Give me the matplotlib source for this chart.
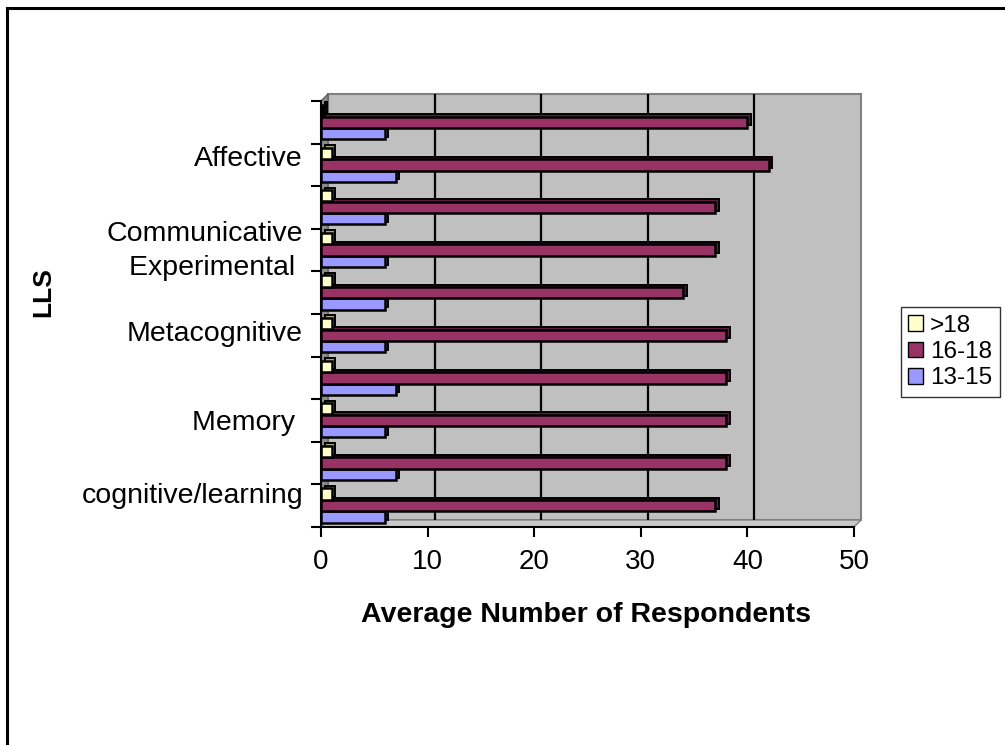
# grafico a barre orizzontali "3D" stile Excel: LLS per fascia d'eta'

import matplotlib.pyplot as plt
import numpy as np
from matplotlib.patches import Rectangle, Polygon, Patch
from matplotlib.lines import Line2D

plt.rcParams["font.family"] = ["Liberation Sans", "DejaVu Sans"]

# dati, righe dal basso verso l'alto
n_righe = 10
resp_13_15 = [6, 7, 6, 7, 6, 6, 6, 6, 7, 6]
resp_16_18 = [37, 38, 38, 38, 38, 34, 37, 37, 42, 40]
resp_over18 = [1, 1, 1, 1, 1, 1, 1, 1, 1, 0.2]

etichette = ["cognitive/learning", "Memory ", "Metacognitive", "Experimental ", "Communicative", "Affective"]
pos_etichette = [0.3, 2.0, 4.1, 5.65, 6.45, 8.2]
x_ticks = [0, 10, 20, 30, 40, 50]

W, H = 1005, 745
fig = plt.figure(figsize=(W / 100, H / 100), dpi=100)
ax = fig.add_axes([321 / W, 1 - 527 / H, 533 / W, 426 / H])
ax.set_xlim(0, 50)
ax.set_ylim(-0.5, n_righe - 0.5)
ax.patch.set_visible(False)

# profondita' delle pareti (7 px) e delle barre (3 px) in unita' dati
DX, DY = 50 * 7 / 533, n_righe * 7 / 426
BDX, BDY = 50 * 3.5 / 533, n_righe * 2.5 / 426
y0, y1 = -0.5, n_righe - 0.5

# parete di fondo, parete sinistra, pavimento
ax.add_patch(Rectangle((DX, y0 + DY), 50, n_righe, facecolor="#C0C0C0",
                       edgecolor="#808080", lw=1.5, zorder=0.5, clip_on=False))
ax.add_patch(Polygon([(0, y0), (0, y1), (DX, y1 + DY), (DX, y0 + DY)],
                     facecolor="#8C8C8C", edgecolor="#606060", lw=1, zorder=0.6, clip_on=False))
ax.add_patch(Polygon([(0, y0), (50, y0), (50 + DX, y0 + DY), (DX, y0 + DY)],
                     facecolor="#C8C8C8", edgecolor="#808080", lw=1, zorder=0.6, clip_on=False))
ax.vlines(np.array(x_ticks[1:-1]) + DX, y0 + DY, y1 + DY, colors="black", lw=1.6,
          zorder=0.7, clip_on=False)

y = np.arange(n_righe)
h = 0.265
serie = [
    (resp_13_15, -0.265, "#9999FF", "#5C5CA8", "13-15"),
    (resp_16_18, 0.0, "#993366", "#5E1F3F", "16-18"),
    (resp_over18, 0.275, "#FFFFCC", "#A8A87A", ">18"),
]
for valori, spost, colore, scuro, nome in serie:
    ax.barh(y + spost + BDY, valori, left=BDX, height=h, color=scuro,
            edgecolor="black", lw=1.4, zorder=3)
    ax.barh(y + spost, valori, height=h, color=colore, edgecolor="black",
            lw=1.8, zorder=3)

# assi
for s in ["top", "right"]:
    ax.spines[s].set_visible(False)
for s in ["left", "bottom"]:
    ax.spines[s].set_linewidth(1.5)
    ax.spines[s].set_zorder(4)

ax.set_xticks(x_ticks)
ax.tick_params(axis="x", direction="out", length=7, width=1.5, pad=9, labelsize=20)
ax.set_yticks(np.arange(y0, y1 + 0.01, 1))
ax.set_yticklabels([])
ax.tick_params(axis="y", which="major", direction="out", length=7, width=1.5)
ax.set_yticks(pos_etichette, minor=True)
ax.set_yticklabels(etichette, minor=True)
ax.tick_params(axis="y", which="minor", length=0, pad=13, labelsize=20.5)

fig.text(586 / W, 1 - 615 / H, "Average Number of Respondents", ha="center",
         va="center", fontsize=20.5, fontweight="bold")
fig.text(43 / W, 1 - 292 / H, "LLS", rotation=90, ha="center", va="center",
         fontsize=19, fontweight="bold")

# legenda
maniglie = [Patch(facecolor=c, edgecolor="black", label=n) for _, _, c, _, n in serie[::-1]]
fig.legend(handles=maniglie, loc="center left", bbox_to_anchor=(901 / W, 1 - 352 / H),
           fontsize=17.5, frameon=True, fancybox=False, edgecolor="black",
           handlelength=0.6, handleheight=0.6, handletextpad=0.3,
           labelspacing=0.18, borderpad=0.3, borderaxespad=0)

# cornice esterna (solo bordo sinistro e superiore visibili)
fig.add_artist(Line2D([7 / W, 7 / W], [0, 1 - 8 / H], color="black", lw=2.2))
fig.add_artist(Line2D([7 / W, 1], [1 - 8 / H, 1 - 8 / H], color="black", lw=2.2))

fig.savefig("out.png", dpi=100)
